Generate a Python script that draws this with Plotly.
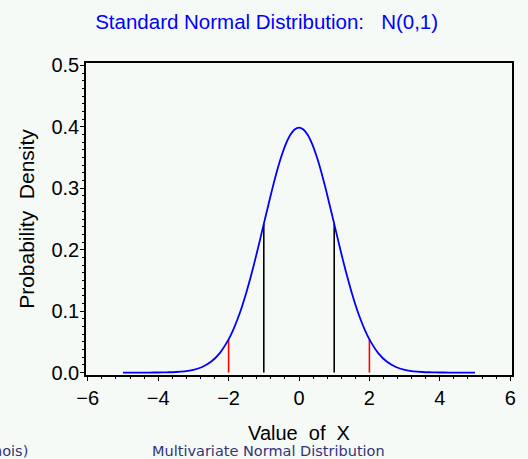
import plotly.graph_objects as go

# Curve samples
x_vals = [-5.0, -4.75, -4.5, -4.25, -4.0, -3.75, -3.5, -3.25, -3.0, -2.75, -2.5, -2.25,
          -2.0, -1.875, -1.75, -1.625, -1.5, -1.375, -1.25, -1.125, -1.0, -0.875, -0.75,
          -0.625, -0.5, -0.375, -0.25, -0.125, 0.0, 0.125, 0.25, 0.375, 0.5, 0.625, 0.75,
          0.875, 1.0, 1.125, 1.25, 1.375, 1.5, 1.625, 1.75, 1.875, 2.0, 2.25, 2.5, 2.75,
          3.0, 3.25, 3.5, 3.75, 4.0, 4.25, 4.5, 4.75, 5.0]
density = [0.0000, 0.0000, 0.0000, 0.0000, 0.0001, 0.0004, 0.0009, 0.0020, 0.0044, 0.0091,
           0.0175, 0.0317, 0.0540, 0.0687, 0.0863, 0.1064, 0.1295, 0.1551, 0.1826, 0.2119,
           0.2420, 0.2717, 0.3011, 0.3282, 0.3521, 0.3719, 0.3867, 0.3958, 0.3989, 0.3958,
           0.3867, 0.3719, 0.3521, 0.3282, 0.3011, 0.2717, 0.2420, 0.2119, 0.1826, 0.1551,
           0.1295, 0.1064, 0.0863, 0.0687, 0.0540, 0.0317, 0.0175, 0.0091, 0.0044, 0.0020,
           0.0009, 0.0004, 0.0001, 0.0000, 0.0000, 0.0000, 0.0000]

# Reference lines
sd1_x = [-1.0, 1.0]
sd1_y = [0.2420, 0.2420]
sd2_x = [-2.0, 2.0]
sd2_y = [0.0540, 0.0540]

x_ticks = [-6, -4, -2, 0, 2, 4, 6]
y_ticks = [0.0, 0.1, 0.2, 0.3, 0.4, 0.5]
y_ticklabels = ["0.0", "0.1", "0.2", "0.3", "0.4", "0.5"]

bg = "#f6faf7"

fig = go.Figure()

def vlines(xs, ys, color):
    lx, ly = [], []
    for xv, yv in zip(xs, ys):
        lx += [xv, xv, None]
        ly += [0, yv, None]
    return go.Scatter(x=lx, y=ly, mode="lines", line=dict(color=color, width=1.6),
                      hoverinfo="skip", showlegend=False)

fig.add_trace(vlines(sd2_x, sd2_y, "#ff0000"))
fig.add_trace(vlines(sd1_x, sd1_y, "#000000"))
fig.add_trace(go.Scatter(x=x_vals, y=density, mode="lines",
                         line=dict(color="#0000ff", width=1.8, shape="spline", smoothing=0.8),
                         showlegend=False))

tick_font = dict(family="Liberation Sans, Arial, sans-serif", size=20, color="black")
title_font = dict(family="Liberation Sans, Arial, sans-serif", size=20, color="black")

fig.update_layout(
    width=528, height=459,
    margin=dict(l=86, r=14, t=63, b=84),
    paper_bgcolor=bg, plot_bgcolor=bg,
    showlegend=False,
    title=dict(text="Standard Normal Distribution:&nbsp;&nbsp;&nbsp;N(0,1)",
               x=0.505, xanchor="center", y=0.952, yanchor="middle",
               font=dict(family="Liberation Sans, Arial, sans-serif", size=20.5, color="#0000ff")),
    xaxis=dict(range=[-6.05, 6.05], tickvals=x_ticks, ticks="outside", ticklen=4,
               tickwidth=1, tickcolor="black", showgrid=False, zeroline=False,
               showline=True, linecolor="black", linewidth=1.5, mirror=True,
               tickfont=tick_font,
               title=dict(text="Value&nbsp;&nbsp;of&nbsp;&nbsp;X", font=title_font, standoff=18),
               minor=dict(dtick=0.4, ticks="outside", ticklen=2, tickcolor="black", showgrid=False)),
    yaxis=dict(range=[-0.004, 0.504], tickvals=y_ticks, ticktext=y_ticklabels,
               ticks="outside", ticklen=4, tickwidth=1, tickcolor="black",
               ticklabelstandoff=-3,
               showgrid=False, zeroline=False, showline=True, linecolor="black",
               linewidth=1.5, mirror=True, tickfont=tick_font,
               title=dict(text="Probability&nbsp;&nbsp;Density", font=dict(tick_font, size=21), standoff=11),
               minor=dict(dtick=0.0125, ticks="outside", ticklen=2, tickcolor="black", showgrid=False)),
    font=tick_font,
)

fig.add_annotation(text="Multivariate Normal Distribution", xref="paper", yref="paper",
                   x=0.4276, y=-0.2436, xanchor="center", yanchor="middle", showarrow=False,
                   font=dict(family="DejaVu Sans, sans-serif", size=14.5, color="#333377"))
fig.add_annotation(text="nois)", xref="paper", yref="paper",
                   x=-0.1308, y=-0.2436, xanchor="right", yanchor="middle", showarrow=False,
                   font=dict(family="DejaVu Sans, sans-serif", size=14.5, color="#333377"))

fig.write_html("out.html")
